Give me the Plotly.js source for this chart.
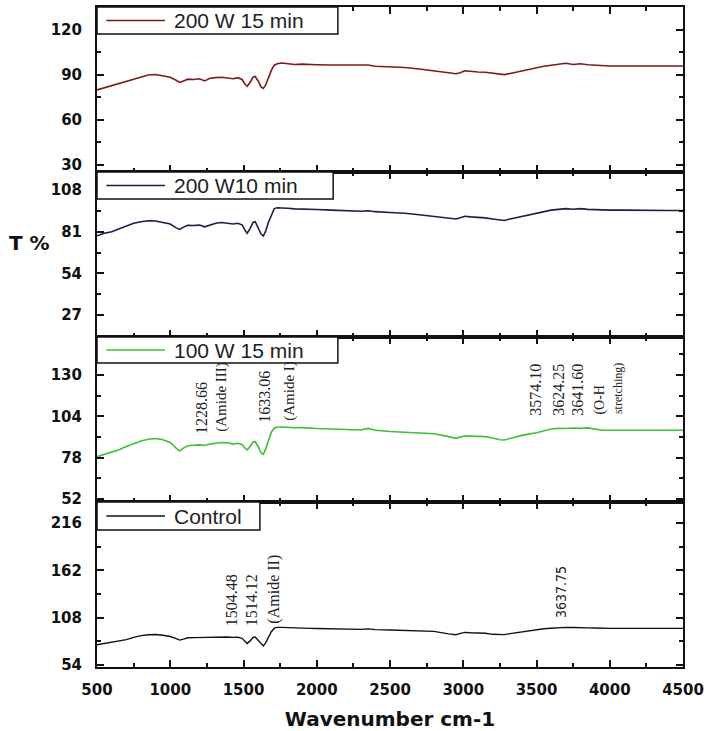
<!DOCTYPE html>
<html>
<head>
<meta charset="utf-8">
<script src="https://cdn.plot.ly/plotly-3.0.1.min.js"></script>
<style>html,body{margin:0;padding:0;background:#fff;}#chart{width:710px;height:731px;}</style>
</head>
<body>
<div id="chart"></div>
<script>
// Shared wavenumber grid (cm-1)
var wavenumber = [500,550,600,650,700,750,800,850,900,950,1000,1040,1065,1090,1120,1160,1200,1235,1270,1310,1350,1390,1430,1460,1490,1510,1525,1545,1565,1580,1600,1620,1635,1650,1670,1690,1710,1730,1760,1800,1850,1900,1950,2000,2100,2200,2300,2350,2400,2500,2600,2700,2800,2900,2950,2980,3010,3050,3100,3150,3200,3250,3280,3320,3400,3500,3550,3600,3650,3700,3750,3800,3850,3900,3950,4000,4100,4200,4300,4400,4500];

var t200w15 = [80,81.5,82.5,84,85.5,87.5,89,90,90.3,89.5,88.5,86.5,85,86,87.2,87,87.5,86,87.8,88.2,88.5,88,87.5,88.2,87,84,82.5,85,88.5,89,86,82,81,83,88,93,96.5,97.5,98,97.5,97,97.2,96.8,96.8,96.6,96.4,96.2,96.6,95.8,95.5,95,94,93,91.5,90.8,91.5,92.8,92.3,92,91.8,91,90.3,90.2,91,92.8,94.8,95.8,96.5,97,97.8,97,97.5,96.8,96.5,96,96,96,96,96,96,96];

var t200w10 = [78.4,80,81,83,85,86.5,87.5,88.1,88,87.2,86,83.5,82.5,84,85.2,85,85.3,84.2,85.5,86.5,87,86.5,86,86.5,85.5,82,80,83,87,87.5,84,79.5,78.2,81,87,92,96,96.5,96.5,96.2,95.8,95.8,95.5,95.4,95,94.6,94.3,94.6,94,93.5,93,92,91,89.8,89.3,90,91,90.6,90.4,90,89.3,88.5,88.3,89.3,91,93,94,95,95.5,96,95.6,96,95.5,95.2,95,95,95,94.8,94.8,94.8,94.8];

var t100w15 = [78.6,80,81.5,83,85,87,88.5,89.6,90,89.2,87.5,84,82.1,84,85.5,85.8,86,85.6,86.5,87,87.5,87.3,86.5,87,86.2,84,82.8,85,87.8,88,85,81,80,83,89,94,96.5,97.3,97.3,97,96.8,96.9,96.5,96.3,96,95.7,95.4,96.4,95.2,94.4,94,93.6,93,91.2,90.1,91,91.6,91.5,91.4,91.2,90.3,89.2,89.1,90.2,92,93.7,95,96,96.5,96.3,96.6,96.4,96.7,96,95.2,95.2,95.2,95.2,95.2,95.2,95.2];

var tControl = [77,78.5,79.5,81,83,85.5,87.5,88.5,88.8,88,86.5,84,82.4,83.5,85,85.2,85.4,85,85.5,86,86.2,86,85.5,85.8,84.5,81,78.5,81.5,85.4,85.8,82,77.5,75.8,79,86,92,96,96.9,96.9,96.5,96,96.2,95.8,95.6,95.2,95,94.6,95.2,94.4,93.9,93.6,93,92.3,89.5,88.5,90,91.2,90.8,90.5,90.2,89,88.5,88.6,89.8,92,94.6,95.3,96,96.6,96.9,96.8,96.9,96.4,96.2,95.8,95.8,95.8,95.8,95.8,95.8,95.8];

var seriesNames = ["200 W 15 min", "200 W10 min", "100 W 15 min", "Control"];
var seriesColors = ["#7a1c1c", "#1c1c4e", "#3cbf3c", "#111111"];

// Peak labels
var peaks3 = [
  {x:1214, y:91.4, t:"1228.66", s:16},
  {x:1350, y:92.7, t:"(Amide III)", s:15},
  {x:1643, y:99, t:"1633.06", s:16},
  {x:1813, y:100.2, t:"(Amide I)", s:15},
  {x:3493, y:103.4, t:"3574.10", s:16},
  {x:3650, y:103.4, t:"3624.25", s:16},
  {x:3779, y:103.4, t:"3641.60", s:16},
  {x:3935, y:104, t:"(O-H", s:14},
  {x:4058, y:104, t:"stretching)", s:12}
];
var peaks4 = [
  {x:1418, y:96.5, t:"1504.48", s:16},
  {x:1554, y:96.5, t:"1514.12", s:16},
  {x:1711, y:98.8, t:"(Amide II)", s:16},
  {x:3663, y:105.7, t:"3637.75", s:14, sans:true}
];

var tickFont = {family:"DejaVu Sans", size:15, weight:"bold", color:"#111"};

var traces = [
  {x:wavenumber, y:t200w15, xaxis:"x4", yaxis:"y", type:"scatter", mode:"lines", line:{color:seriesColors[0], width:1.6}, name:seriesNames[0], showlegend:false},
  {x:wavenumber, y:t200w10, xaxis:"x3", yaxis:"y2", type:"scatter", mode:"lines", line:{color:seriesColors[1], width:1.6}, name:seriesNames[1], showlegend:false},
  {x:wavenumber, y:t100w15, xaxis:"x2", yaxis:"y3", type:"scatter", mode:"lines", line:{color:seriesColors[2], width:1.6}, name:seriesNames[2], showlegend:false},
  {x:wavenumber, y:tControl, xaxis:"x", yaxis:"y4", type:"scatter", mode:"lines", line:{color:seriesColors[3], width:1.4}, name:seriesNames[3], showlegend:false}
];

function xax(anchor, labels){
  var a = {domain:[0,1], anchor:anchor, range:[500,4500], dtick:500, tick0:500,
    ticks:"inside", ticklen:7, tickwidth:2, tickcolor:"#111", showline:true, linewidth:2, linecolor:"#111",
    mirror:"ticks", showgrid:false, zeroline:false, showticklabels:labels, tickfont:tickFont,
    ticklabelstandoff:8,
    minor:{ticks:"inside", ticklen:4, tickwidth:2, dtick:250, tickcolor:"#111", showgrid:false}};
  if (anchor !== "y4") a.matches = "x";
  return a;
}
function yax(anchor, dom, range, dtick){
  return {domain:dom, anchor:anchor, range:range, dtick:dtick, tick0:0,
    ticks:"inside", ticklen:7, tickwidth:2, tickcolor:"#111", showline:true, linewidth:2, linecolor:"#111",
    mirror:"ticks", showgrid:false, zeroline:false, tickfont:tickFont, ticklabelstandoff:10,
    minor:{ticks:"inside", ticklen:4, tickwidth:2, dtick:dtick/2, tickcolor:"#111", showgrid:false}};
}

var shapes = [], annotations = [];
var legendBoxes = [
  {y:"y", right:0.411, bottom:0.836},
  {y:"y2", right:0.403, bottom:0.836},
  {y:"y3", right:0.411, bottom:0.842},
  {y:"y4", right:0.278, bottom:0.83}
];
var xRefs = ["x4","x3","x2","x"];
legendBoxes.forEach(function(b, i){
  var yr = b.y + " domain", xr = xRefs[i] + " domain";
  var mid = (1 + b.bottom) / 2;
  shapes.push({type:"rect", xref:xr, yref:yr, x0:0, x1:b.right, y0:b.bottom, y1:1, line:{color:"#111", width:1.5}, fillcolor:"#fff", layer:"above"});
  shapes.push({type:"line", xref:xr, yref:yr, x0:0.016, x1:0.116, y0:mid, y1:mid, line:{color:seriesColors[i], width:1.6}, layer:"above"});
  annotations.push({xref:xr, yref:yr, x:0.128, y:mid, xanchor:"left", yanchor:"middle", showarrow:false,
    text:seriesNames[i], font:{family:"Liberation Sans", size:21, color:"#222"}});
});

peaks3.forEach(function(p){
  annotations.push({xref:"x2", yref:"y3", x:p.x, y:p.y, text:p.t, textangle:-90, showarrow:false,
    xanchor:"center", yanchor:"bottom", font:{family:"Liberation Serif", size:p.s, color:"#222"}});
});
peaks4.forEach(function(p){
  annotations.push({xref:"x", yref:"y4", x:p.x, y:p.y, text:p.t, textangle:-90, showarrow:false,
    xanchor:"center", yanchor:"bottom", font:{family:p.sans ? "DejaVu Sans Condensed, DejaVu Sans" : "Liberation Serif", size:p.s, color:"#222"}});
});

annotations.push({xref:"paper", yref:"paper", x:-0.116, y:0.642, text:"T %", showarrow:false,
  xanchor:"center", yanchor:"middle", font:{family:"DejaVu Sans", size:20, weight:"bold", color:"#111"}});

var layout = {
  width:710, height:731,
  margin:{l:97, r:27, t:7, b:64},
  paper_bgcolor:"#fff", plot_bgcolor:"#fff",
  showlegend:false,
  xaxis: Object.assign(xax("y4", true), {title:{text:"Wavenumber cm-1", standoff:14, font:{family:"DejaVu Sans", size:20, weight:"bold", color:"#111"}}}),
  xaxis2: xax("y3", false),
  xaxis3: xax("y2", false),
  xaxis4: xax("y", false),
  yaxis: yax("x4", [0.75,1], [25.3,135.3], 30),
  yaxis2: yax("x3", [0.5,0.75], [12.8,119.7], 27),
  yaxis3: yax("x2", [0.25,0.5], [50,154], 26),
  yaxis4: yax("x", [0,0.25], [51.7,240], 54),
  shapes:shapes,
  annotations:annotations
};

Plotly.newPlot("chart", traces, layout, {displayModeBar:false, staticPlot:true});
</script>
</body>
</html>
